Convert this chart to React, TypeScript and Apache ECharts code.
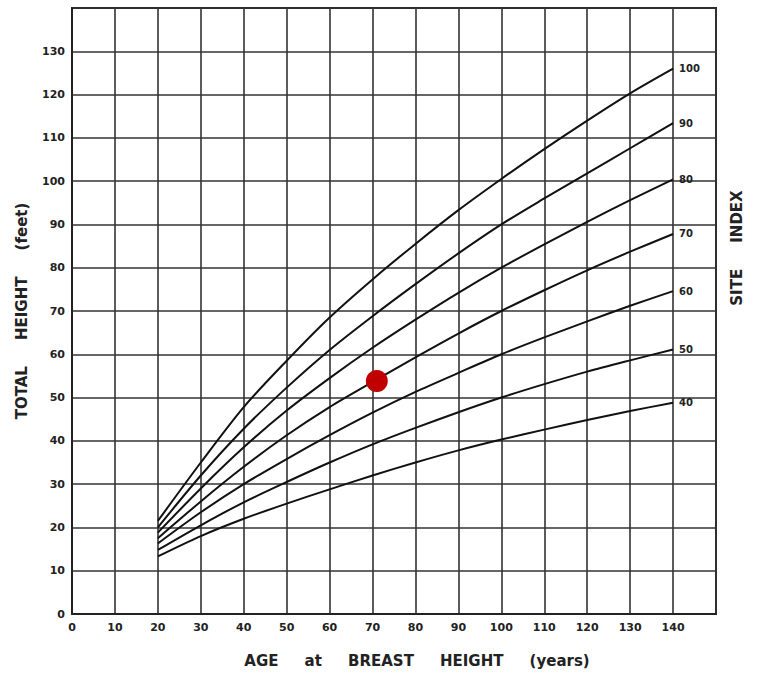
import React, { useEffect, useRef } from "react";
import * as echarts from "echarts";

const ages = [20, 30, 40, 50, 60, 70, 80, 90, 100, 110, 120, 130, 140];
const siteIndexes = ["100", "90", "80", "70", "60", "50", "40"];
const si100 = [21.5, 35, 47.8, 58.5, 68.5, 77.3, 85.5, 93.3, 100.5, 107.4, 114, 120.3, 126];
const si90 = [20, 32, 42.8, 52.3, 61, 68.8, 76.2, 83.3, 90, 96, 101.8, 107.6, 113.4];
const si80 = [18.8, 29, 38.5, 47, 54.5, 61.5, 68, 74.2, 80, 85.4, 90.6, 95.6, 100.4];
const si70 = [17.5, 26, 34, 41.3, 47.8, 53.6, 59.3, 64.8, 70, 74.8, 79.4, 83.7, 87.8];
const si60 = [16.3, 23.5, 30, 35.8, 41.3, 46.5, 51.3, 55.7, 60, 63.9, 67.6, 71.2, 74.6];
const si50 = [14.8, 20.5, 25.8, 30.5, 35, 39.2, 43, 46.6, 50, 53.1, 56, 58.6, 61.1];
const si40 = [13.3, 18, 22, 25.5, 28.8, 32, 35, 37.8, 40.3, 42.6, 44.8, 46.9, 48.8];
const curves = [si100, si90, si80, si70, si60, si50, si40];
const marker = [71, 53.8];

const FONT = "DejaVu Sans";

export default function App() {
  const ref = useRef<HTMLDivElement>(null);
  useEffect(() => {
    if (!ref.current) return;
    const chart = echarts.init(ref.current, null, { renderer: "svg" });
    const lineSeries = curves.map((vals, i) => ({
      type: "line",
      name: siteIndexes[i],
      data: ages.map((a, j) => [a, vals[j]]),
      smooth: 0.3,
      showSymbol: false,
      symbol: "none",
      lineStyle: { color: "#111", width: 2 },
      endLabel: {
        show: true,
        formatter: "{a}",
        distance: 6,
        fontSize: 10,
        fontWeight: "bold",
        fontFamily: FONT,
        color: "#222",
      },
      z: 3,
    }));
    chart.setOption({
      animation: false,
      backgroundColor: "#fff",
      grid: {
        left: 72,
        right: 44,
        top: 8,
        bottom: 61,
        show: true,
        borderColor: "#222",
        borderWidth: 2,
        backgroundColor: "transparent",
      },
      xAxis: {
        type: "value",
        min: 0,
        max: 150,
        interval: 10,
        name: "AGE     at     BREAST     HEIGHT     (years)",
        nameLocation: "middle",
        nameGap: 39,
        nameTextStyle: { fontSize: 15, fontWeight: "bold", fontFamily: FONT, color: "#222", padding: [0, 0, 0, 46] },
        axisLine: { show: true, lineStyle: { color: "#222", width: 2 } },
        axisTick: { show: false },
        axisLabel: {
          formatter: (v: number) => (v === 150 ? "" : String(v)),
          fontSize: 11,
          fontWeight: "bold",
          fontFamily: FONT,
          color: "#222",
          margin: 8,
        },
        splitLine: { show: true, lineStyle: { color: "#333", width: 1.6 } },
      },
      yAxis: {
        type: "value",
        min: 0,
        max: 140,
        interval: 10,
        name: "TOTAL     HEIGHT     (feet)",
        nameLocation: "middle",
        nameGap: 43,
        nameRotate: 90,
        nameTextStyle: { fontSize: 15, fontWeight: "bold", fontFamily: FONT, color: "#222" },
        axisLine: { show: true, lineStyle: { color: "#222", width: 2 } },
        axisTick: { show: false },
        axisLabel: {
          formatter: (v: number) => (v === 140 ? "" : String(v)),
          fontSize: 11,
          fontWeight: "bold",
          fontFamily: FONT,
          color: "#222",
          margin: 7,
        },
        splitLine: { show: true, lineStyle: { color: "#333", width: 1.6 } },
      },
      graphic: [
        {
          type: "text",
          x: 737,
          y: 248,
          rotation: Math.PI / 2,
          style: {
            text: "SITE     INDEX",
            fontSize: 15,
            fontWeight: "bold",
            fontFamily: FONT,
            fill: "#222",
            align: "center",
            verticalAlign: "middle",
          },
        },
      ],
      series: [
        ...lineSeries,
        {
          type: "scatter",
          data: [marker],
          symbolSize: 22,
          itemStyle: { color: "#c00000", opacity: 1 },
          z: 5,
        },
      ],
    });
    return () => chart.dispose();
  }, []);
  return (
    <div
      ref={ref}
      style={{ position: "fixed", left: 0, top: 0, width: 760, height: 675, background: "#fff" }}
    />
  );
}
